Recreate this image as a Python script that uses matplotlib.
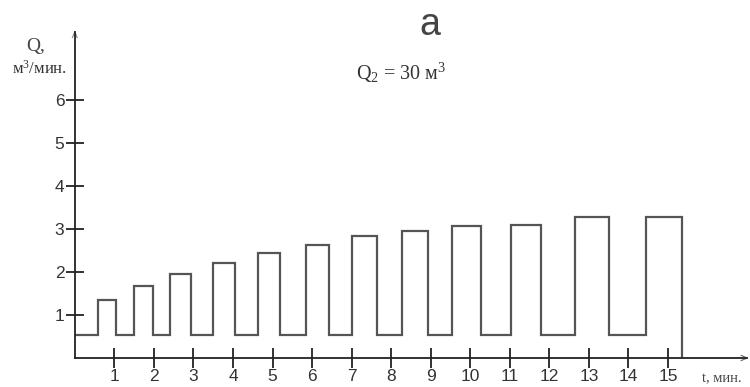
import numpy as np
import matplotlib
matplotlib.use('Agg')
import matplotlib.pyplot as plt

plt.rcParams['mathtext.fontset'] = 'custom'
plt.rcParams['mathtext.rm'] = 'Liberation Serif'
plt.rcParams['mathtext.it'] = 'Liberation Serif'

# pulse data (t in min, Q in m3/min)
rise = [0.58, 1.51, 2.42, 3.49, 4.63, 5.84, 7.02, 8.27, 9.53, 11.04, 12.65, 14.44]
fall = [1.04, 1.99, 2.95, 4.05, 5.19, 6.43, 7.63, 8.94, 10.28, 11.80, 13.50, 15.35]
peak = [1.34, 1.68, 1.95, 2.22, 2.43, 2.62, 2.83, 2.95, 3.08, 3.09, 3.28, 3.28]
base = 0.53

xticks = list(range(1, 16))
yticks = [1, 2, 3, 4, 5, 6]

# build the step line
xs, ys = [0], [base]
for r, f, h in zip(rise, fall, peak):
    xs += [r, r, f, f]
    ys += [base, h, h, base]
ys[-1] = 0

fig = plt.figure(figsize=(7.5, 3.87), dpi=100)
ax = fig.add_axes([74.75 / 750, 29 / 387, 672.35 / 750, 326 / 387])
ax.set_xlim(0, 17.0)
ax.set_ylim(0, 7.58)

ax.plot(xs, ys, color='#555555', lw=1.6, solid_joinstyle='miter')

for s in ['top', 'right']:
    ax.spines[s].set_visible(False)
for s in ['left', 'bottom']:
    ax.spines[s].set_color('#222222')
    ax.spines[s].set_linewidth(1.3)

# arrow heads
ax.plot([16.85, 17.0, 16.85], [0.06, 0, -0.06], color='#666666', lw=0.8, clip_on=False)
ax.plot([-0.06, 0, 0.06], [7.45, 7.58, 7.45], color='#888888', lw=0.8, clip_on=False)

ax.set_xticks(xticks)
ax.set_yticks(yticks)
ax.set_xticklabels([str(t) for t in xticks])
ax.set_yticklabels([str(t) for t in yticks])
ax.tick_params(axis='x', direction='inout', length=14, width=1.3, color='#222222',
               labelsize=12.5, labelcolor='#333333', pad=1)
ax.tick_params(axis='y', direction='inout', length=13, width=1.3, color='#222222',
               labelsize=12.5, labelcolor='#333333', pad=1)
for lab in ax.get_xticklabels() + ax.get_yticklabels():
    lab.set_family('Liberation Sans')

fig.text(430 / 750, 1 - 25 / 387, 'а', fontsize=27, family='Liberation Sans',
         color='#444444', ha='center', va='center')
fig.text(401 / 750, 1 - 73 / 387, r'Q$_2$ = 30 м$^3$', fontsize=14.5, family='Liberation Serif',
         color='#333333', ha='center', va='center')
fig.text(36 / 750, 1 - 46 / 387, 'Q,', fontsize=14, family='Liberation Serif',
         color='#444444', ha='center', va='center')
fig.text(39 / 750, 1 - 69 / 387, r'м$^3$/мин.', fontsize=12, family='Liberation Serif',
         color='#333333', ha='center', va='center')
fig.text(722 / 750, 1 - 379 / 387, 't, мин.', fontsize=10.5, family='Liberation Serif',
         color='#444444', ha='center', va='center')

fig.savefig('out.png', dpi=100, facecolor='white')
